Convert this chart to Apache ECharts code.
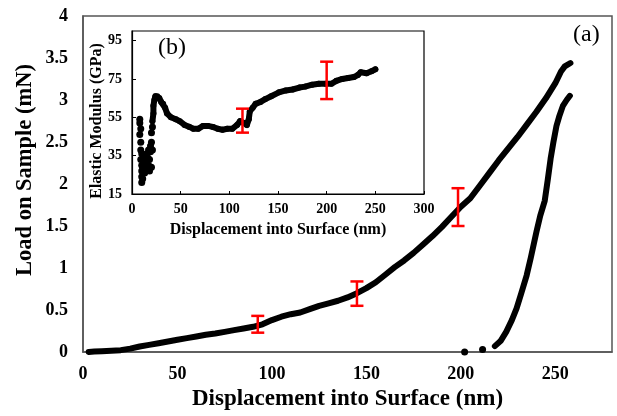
<!DOCTYPE html>
<html><head><meta charset="utf-8">
<script src="https://cdn.jsdelivr.net/npm/echarts@6/dist/echarts.min.js"></script>
<style>html,body{margin:0;padding:0;background:#fff}#c{width:617px;height:416px}</style>
</head><body><div id="c"></div>
<script>
// Main chart: load vs displacement (nm, mN)
var loading = [[3,0],[6,0.005],[10,0.01],[15,0.015],[20,0.022],[25,0.04],[30,0.065],[35,0.085],[40,0.105],[45,0.125],[50,0.145],[55,0.165],[60,0.185],[65,0.205],[70,0.22],[75,0.24],[80,0.26],[85,0.28],[90,0.3],[95,0.33],[100,0.38],[105,0.42],[110,0.45],[115,0.47],[120,0.51],[125,0.55],[130,0.58],[135,0.61],[140,0.65],[145,0.70],[150,0.76],[155,0.83],[160,0.92],[165,1.01],[170,1.09],[175,1.18],[180,1.28],[185,1.38],[190,1.49],[195,1.61],[200,1.73],[205,1.83],[210,1.98],[215,2.13],[220,2.28],[225,2.42],[230,2.56],[235,2.71],[240,2.86],[245,3.02],[250,3.2],[253,3.34],[255,3.40],[258,3.44]];
var unloading = [[218,0.07],[221,0.13],[224,0.24],[227,0.38],[229.5,0.52],[232,0.7],[234.8,0.91],[237,1.12],[240,1.43],[242,1.62],[244.4,1.8],[246,2.05],[247.5,2.30],[249,2.5],[250.6,2.69],[252,2.8],[254,2.93],[256,3.0],[257.7,3.05]];
var unloadDots = [[202,0],[211.5,0.03]];
var loadErrors = [[92.5,0.23,0.43],[145,0.55,0.84],[198.5,1.50,1.95]];
var mainYTicks = [0,0.5,1,1.5,2,2.5,3,3.5,4];
// Inset: elastic modulus (nm, GPa)
var modulusNoisy = [[8,54],[8,52],[9,49],[8,46],[9,42],[9,38],[10,36],[9,33],[10,30],[10,27],[10,24],[10,21],[11,23],[11,28],[12,31],[12,35],[13,26],[13,30],[14,33],[14,28],[15,36],[15,31],[16,29],[16,34],[17,38],[17,30],[18,27],[18,33],[19,37],[19,40],[20,42],[20,29],[20,47],[21,50],[21,38]];
var modulusSmooth = [[21,53],[22,57],[22,61],[23,64],[24,66],[26,66],[28,65],[30,63],[32,62],[34,60],[36,57],[40,55],[45,54],[49,53],[54,51],[59,50],[63,49],[68,49],[73,50.5],[78,50.5],[83,50],[88,49],[93,48.5],[98,49],[103,49],[108,51],[111,53],[115,52],[118,51],[120,54],[121,58],[124,60],[127,62],[132,63],[137,64.5],[143,66],[151,68],[158,69],[165,69.5],[172,70.5],[178,71],[185,72],[192,72.5],[199,72.5],[205,72.5],[210,74],[216,75],[222,75.5],[228,76],[232,77],[235,78.5],[241,78],[246,79],[250,80]];
var modulusErrors = [[113.5,47,59.5],[200,64.5,84]];
var insetYTicks = [15,35,55,75,95];

var serif = 'Liberation Serif';
function errItem(params, api){
  var x = api.value(0), lo = api.value(1), hi = api.value(2);
  var p1 = api.coord([x, lo]), p2 = api.coord([x, hi]);
  var w = 6.5;
  var st = {stroke:'#ff0000', lineWidth:2.5};
  return {type:'group', children:[
    {type:'line', shape:{x1:p1[0],y1:p1[1],x2:p2[0],y2:p2[1]}, style:st},
    {type:'line', shape:{x1:p1[0]-w,y1:p1[1],x2:p1[0]+w,y2:p1[1]}, style:st},
    {type:'line', shape:{x1:p2[0]-w,y1:p2[1],x2:p2[0]+w,y2:p2[1]}, style:st}
  ]};
}
var chart = echarts.init(document.getElementById('c'));
chart.setOption({
  animation:false,
  backgroundColor:'#fff',
  grid:[
    {left:83, right:5, top:16, bottom:62, show:true, borderColor:'#555', borderWidth:1.5, backgroundColor:'#fff'},
    {left:132, right:193, top:31, bottom:222, show:true, borderColor:'#000', borderWidth:1.2, backgroundColor:'#fff', z:5}
  ],
  xAxis:[
    {gridIndex:0, type:'value', min:0, max:280, interval:50,
     name:'Displacement into Surface (nm)', nameLocation:'middle', nameGap:36,
     nameTextStyle:{fontFamily:serif, fontWeight:'bold', fontSize:23, color:'#000'},
     axisLine:{lineStyle:{color:'#555', width:1.5}}, axisTick:{show:false}, splitLine:{show:false},
     axisLabel:{fontFamily:serif, fontWeight:'bold', fontSize:18, color:'#000', margin:13, showMaxLabel:false}},
    {gridIndex:1, type:'value', min:0, max:300, interval:50,
     name:'Displacement into Surface (nm)', nameLocation:'middle', nameGap:28,
     nameTextStyle:{fontFamily:serif, fontWeight:'bold', fontSize:16, color:'#000'},
     axisLine:{lineStyle:{color:'#000', width:1.2}}, axisTick:{show:true, inside:true, length:3, lineStyle:{color:'#000'}}, splitLine:{show:false},
     axisLabel:{fontFamily:serif, fontWeight:'bold', fontSize:14, color:'#000', margin:8}, z:6}
  ],
  yAxis:[
    {gridIndex:0, type:'value', min:0, max:4, interval:0.5,
     axisLine:{show:true, lineStyle:{color:'#555', width:1.5}}, axisTick:{show:false}, splitLine:{show:false},
     axisLabel:{fontFamily:serif, fontWeight:'bold', fontSize:18, color:'#000', margin:15,
       formatter:function(v){ return mainYTicks.indexOf(v) >= 0 ? String(v) : ''; }}},
    {gridIndex:1, type:'value', min:15, max:100, interval:20,
     axisLine:{show:true, lineStyle:{color:'#000', width:1.2}}, axisTick:{show:true, inside:true, length:4, lineStyle:{color:'#000'}}, splitLine:{show:false},
     axisLabel:{fontFamily:serif, fontWeight:'bold', fontSize:14, color:'#000', margin:10, showMaxLabel:false,
       formatter:function(v){ return insetYTicks.indexOf(v) >= 0 ? String(v) : ''; }}, z:6}
  ],
  graphic:[
    {type:'text', x:25, y:170, rotation:Math.PI/2, style:{text:'Load on Sample (mN)', font:'bold 22.5px "Liberation Serif"', fill:'#000', textAlign:'center', textVerticalAlign:'middle'}, z:20},
    {type:'text', x:97, y:121, rotation:Math.PI/2, style:{text:'Elastic Modulus (GPa)', font:'bold 16px "Liberation Serif"', fill:'#000', textAlign:'center', textVerticalAlign:'middle'}, z:20},
    {type:'text', left:573, top:23, style:{text:'(a)', font:'24px "Liberation Serif"', fill:'#000'}, z:20},
    {type:'text', left:158, top:36, style:{text:'(b)', font:'24px "Liberation Serif"', fill:'#000'}, z:20}
  ],
  series:[
    {type:'line', xAxisIndex:0, yAxisIndex:0, data:loading, showSymbol:false, lineStyle:{color:'#000', width:6, cap:'round', join:'round'}, z:2},
    {type:'line', xAxisIndex:0, yAxisIndex:0, data:unloading, showSymbol:false, lineStyle:{color:'#000', width:6, cap:'round', join:'round'}, z:2},
    {type:'scatter', xAxisIndex:0, yAxisIndex:0, data:unloadDots, symbolSize:7, itemStyle:{color:'#000', opacity:1}, z:2},
    {type:'custom', xAxisIndex:0, yAxisIndex:0, data:loadErrors, renderItem:errItem, z:3},
    {type:'scatter', xAxisIndex:1, yAxisIndex:1, data:modulusNoisy, symbolSize:7, itemStyle:{color:'#000', opacity:1}, z:7},
    {type:'line', xAxisIndex:1, yAxisIndex:1, data:modulusSmooth, showSymbol:true, symbol:'circle', symbolSize:6, itemStyle:{color:'#000'}, lineStyle:{color:'#000', width:6, cap:'round', join:'round'}, z:7},
    {type:'custom', xAxisIndex:1, yAxisIndex:1, data:modulusErrors, renderItem:errItem, z:8}
  ]
});
</script></body></html>
